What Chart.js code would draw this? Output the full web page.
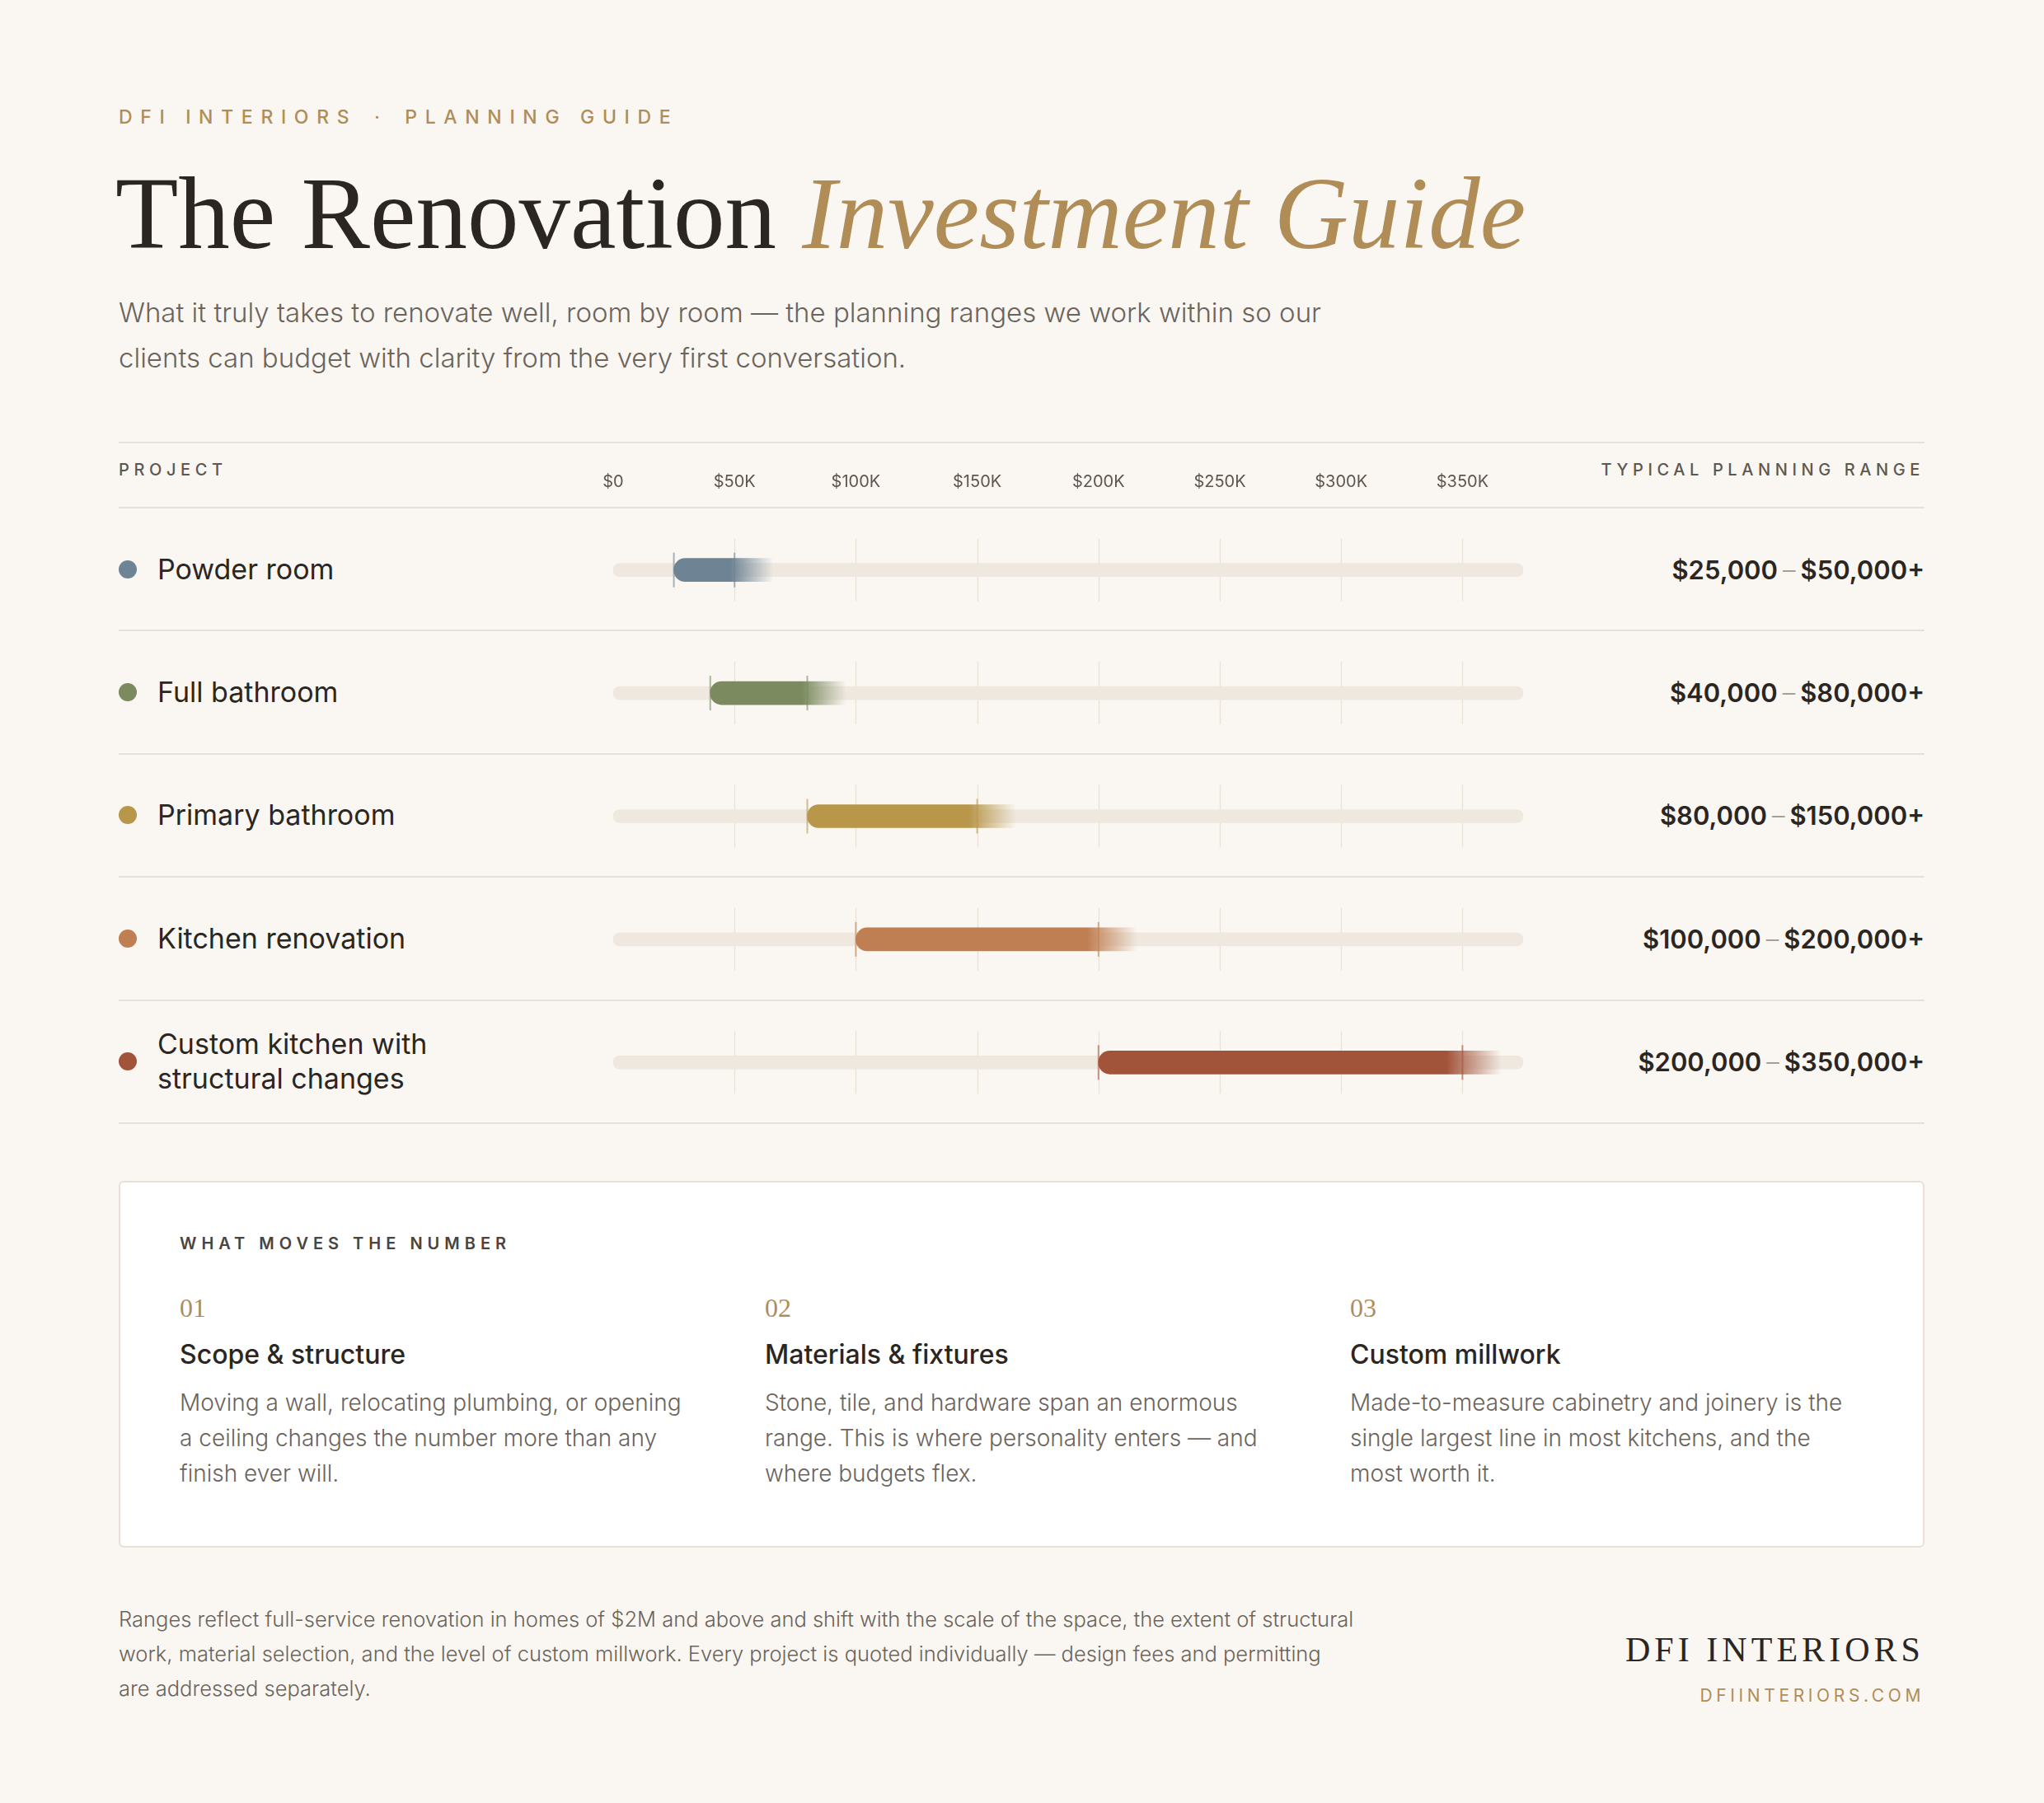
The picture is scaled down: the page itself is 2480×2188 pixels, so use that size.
<!DOCTYPE html>
<html lang="en">
<head>
  <meta charset="UTF-8" />
  <title>The Renovation Investment Guide</title>
  <script src="https://cdn.jsdelivr.net/npm/chart.js"></script>
  <style>
    body {
      margin: 0;
      width: 2480px;
      height: 2188px;
      background: #faf7f2;
      font-family: "Inter", "Open Sans", sans-serif;
      color: #2b2622;
      position: relative;
      overflow: hidden;
    }
    .abs { position: absolute; }
    .eyebrow {
      left: 144px; top: 128px;
      font-size: 23px; font-weight: 500; letter-spacing: 0.42em;
      color: #b08d57;
    }
    .eyebrow span { margin: 0 0.9em; }
    h1 {
      position: absolute; left: 140px; top: 184px; margin: 0;
      font-family: "Liberation Serif", "DejaVu Serif", serif;
      font-weight: 400; font-size: 125px; line-height: 150px;
      color: #2b2622;
    }
    h1 em { color: #b08d57; }
    .sub {
      left: 144px; top: 352px; width: 1560px;
      font-size: 33px; line-height: 55px; color: #6b645c; font-weight: 300;
    }
    #table {
      left: 144px; top: 536px; width: 2191px; height: 826px;
      border-top: 2px solid #e8e0d6;
    }
    .head {
      position: absolute; top: 20px; font-size: 20px; letter-spacing: 0.28em;
      color: #5e5750; font-weight: 500;
    }
    #rows {
      position: absolute; top: 77px; left: 0; right: 0; height: 747px;
      border-top: 2px solid #e8e0d6;
    }
    .row {
      position: absolute; left: 0; right: 0; height: 149.4px;
      border-bottom: 2px solid #e8e0d6; box-sizing: border-box;
    }
    .row .dot {
      position: absolute; left: 0; width: 22px; height: 22px; border-radius: 50%;
      top: 50%; transform: translateY(-50%);
    }
    .row .name {
      position: absolute; left: 47px; top: 50%; transform: translateY(-50%);
      font-size: 34px; line-height: 42px; width: 420px;
    }
    .row .val {
      position: absolute; right: 0; top: 50%; transform: translateY(-50%);
      font-size: 31px; font-weight: 600;
    }
    .row .val i { font-style: normal; color: #a89f94; font-weight: 300; margin: 0 6px; }
    #chartWrap { position: absolute; left: 560px; top: 0; width: 1144px; height: 826px; }
    #box {
      left: 144px; top: 1433px; width: 2191px; height: 445px; box-sizing: border-box;
      background: #fff; border: 2px solid #e8e0d6; border-radius: 6px;
    }
    .boxhead {
      position: absolute; left: 72px; top: 62px; font-size: 20px; letter-spacing: 0.3em;
      color: #4a443e; font-weight: 600;
    }
    .col { position: absolute; top: 134px; width: 610px; }
    .col .num { font-family: "Liberation Serif", serif; color: #b08d57; font-size: 32px; }
    .col .t { font-size: 32px; font-weight: 500; margin-top: 18px; }
    .col .d { font-size: 28px; line-height: 43px; color: #6b645c; margin-top: 18px; font-weight: 300; }
    .foot {
      left: 144px; top: 1944px; width: 1500px; font-size: 25.5px; line-height: 42px;
      color: #6b645c; font-weight: 300;
    }
    .brand {
      right: 145px; top: 1978px; text-align: right;
      font-family: "Liberation Serif", serif; font-size: 42px; letter-spacing: 0.12em;
    }
    .url {
      right: 145px; top: 2045px; font-size: 21px; letter-spacing: 0.22em; color: #b08d57;
    }
  </style>
</head>
<body>
  <div class="abs eyebrow">DFI INTERIORS<span>·</span>PLANNING GUIDE</div>
  <h1>The Renovation <em>Investment Guide</em></h1>
  <div class="abs sub">What it truly takes to renovate well, room by room — the planning ranges we work within so our clients can budget with clarity from the very first conversation.</div>

  <div class="abs" id="table">
    <div class="head" style="left:0">PROJECT</div>
    <div class="head" style="right:0">TYPICAL PLANNING RANGE</div>
    <div id="rows"></div>
    <div id="chartWrap"><canvas id="rangeChart"></canvas></div>
  </div>

  <div class="abs" id="box">
    <div class="boxhead">WHAT MOVES THE NUMBER</div>
    <div id="cols"></div>
  </div>

  <div class="abs foot">Ranges reflect full-service renovation in homes of $2M and above and shift with the scale of the space, the extent of structural work, material selection, and the level of custom millwork. Every project is quoted individually — design fees and permitting are addressed separately.</div>
  <div class="abs brand">DFI INTERIORS</div>
  <div class="abs url">DFIINTERIORS.COM</div>

  <script>
    const projects = ['Powder room', 'Full bathroom', 'Primary bathroom', 'Kitchen renovation', 'Custom kitchen with structural changes'];
    const minValues = [25000, 40000, 80000, 100000, 200000];
    const maxValues = [50000, 80000, 150000, 200000, 350000];
    const colors = ['#6e8494', '#7b8a5f', '#b8964a', '#c07f52', '#a2543b'];
    const tickValues = [0, 50000, 100000, 150000, 200000, 250000, 300000, 350000];
    const axisMax = 375000;
    const fadeExtra = 16000;

    const factorNums = ['01', '02', '03'];
    const factorTitles = ['Scope & structure', 'Materials & fixtures', 'Custom millwork'];
    const factorTexts = [
      'Moving a wall, relocating plumbing, or opening a ceiling changes the number more than any finish ever will.',
      'Stone, tile, and hardware span an enormous range. This is where personality enters — and where budgets flex.',
      'Made-to-measure cabinetry and joinery is the single largest line in most kitchens, and the most worth it.'
    ];

    const money = v => '$' + v.toLocaleString('en-US');

    // rows
    const rowsEl = document.getElementById('rows');
    projects.forEach((p, i) => {
      const r = document.createElement('div');
      r.className = 'row';
      r.style.top = (i * 149.4) + 'px';
      r.innerHTML = `<div class="dot" style="background:${colors[i]}"></div>
        <div class="name">${p.replace(' with ', ' with<br>')}</div>
        <div class="val">${money(minValues[i])}<i>–</i>${money(maxValues[i])}+</div>`;
      rowsEl.appendChild(r);
    });

    // factor columns
    const colsEl = document.getElementById('cols');
    factorNums.forEach((n, i) => {
      const c = document.createElement('div');
      c.className = 'col';
      c.style.left = (72 + i * 710) + 'px';
      c.innerHTML = `<div class="num">${n}</div><div class="t">${factorTitles[i]}</div><div class="d">${factorTexts[i]}</div>`;
      colsEl.appendChild(c);
    });

    const rowDecor = {
      id: 'rowDecor',
      beforeDatasetsDraw(chart) {
        const { ctx, scales: { x, y } } = chart;
        ctx.save();
        ctx.strokeStyle = '#ebe3d8';
        ctx.lineWidth = 1.5;
        projects.forEach((_, i) => {
          const cy = y.getPixelForValue(i);
          tickValues.slice(1).forEach(v => {
            const px = Math.round(x.getPixelForValue(v)) + 0.5;
            ctx.beginPath();
            ctx.moveTo(px, cy - 38);
            ctx.lineTo(px, cy + 38);
            ctx.stroke();
          });
        });
        ctx.restore();
      },
      afterDatasetsDraw(chart) {
        const { ctx, scales: { x, y } } = chart;
        ctx.save();
        ctx.lineWidth = 2;
        projects.forEach((_, i) => {
          const cy = y.getPixelForValue(i);
          ctx.strokeStyle = colors[i] + '99';
          [minValues[i], maxValues[i]].forEach(v => {
            const px = x.getPixelForValue(v);
            ctx.beginPath();
            ctx.moveTo(px, cy - 21);
            ctx.lineTo(px, cy + 21);
            ctx.stroke();
          });
        });
        ctx.restore();
      }
    };

    function rangeFill(context) {
      const chart = context.chart;
      const x = chart.scales.x;
      const i = context.dataIndex;
      if (!x || !chart.chartArea) return colors[i];
      const x0 = x.getPixelForValue(minValues[i]);
      const x1 = x.getPixelForValue(maxValues[i]);
      const x2 = x.getPixelForValue(maxValues[i] + fadeExtra);
      if (![x0, x1, x2].every(Number.isFinite) || x2 <= x0) return colors[i];
      const g = chart.ctx.createLinearGradient(x0, 0, x2, 0);
      const stop = Math.max(0, Math.min(1, (x1 - x0) / (x2 - x0) - 0.04));
      g.addColorStop(0, colors[i]);
      g.addColorStop(stop, colors[i]);
      g.addColorStop(1, colors[i] + '00');
      return g;
    }

    new Chart(document.getElementById('rangeChart'), {
      type: 'bar',
      data: {
        labels: projects,
        datasets: [
          {
            data: minValues.map((v, i) => [v, maxValues[i] + fadeExtra]),
            backgroundColor: rangeFill,
            barThickness: 28,
            borderRadius: { topLeft: 14, bottomLeft: 14, topRight: 0, bottomRight: 0 },
            borderSkipped: false,
            grouped: false,
            order: 0
          },
          {
            data: projects.map(() => [0, axisMax]),
            backgroundColor: '#efe8df',
            barThickness: 16,
            borderRadius: 8,
            borderSkipped: false,
            grouped: false,
            order: 1
          }
        ]
      },
      options: {
        indexAxis: 'y',
        responsive: true,
        maintainAspectRatio: false,
        animation: false,
        layout: { padding: { top: 20, left: 40, right: 0, bottom: 0 } },
        plugins: { legend: { display: false }, tooltip: { enabled: false } },
        scales: {
          x: {
            position: 'top',
            min: 0,
            max: axisMax,
            afterBuildTicks(s) { s.ticks = tickValues.map(v => ({ value: v })); },
            afterFit(s) { s.height = 59; },
            grid: { display: false, drawTicks: false },
            border: { display: false },
            ticks: {
              padding: 20,
              color: '#5e5750',
              font: { family: 'Inter, sans-serif', size: 20 },
              callback: v => v === 0 ? '$0' : '$' + (v / 1000) + 'K'
            }
          },
          y: { display: false }
        }
      },
      plugins: [rowDecor]
    });
  </script>
</body>
</html>
